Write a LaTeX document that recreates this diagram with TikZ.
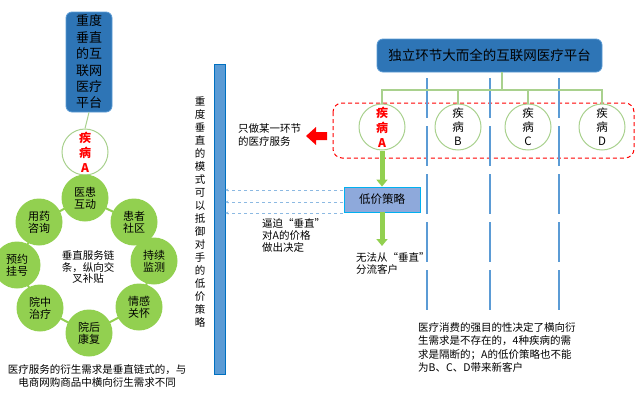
\documentclass[tikz,border=0pt]{standalone}
\usepackage{fontspec}
\setmainfont{Noto Sans CJK SC}
\usetikzlibrary{arrows.meta,backgrounds}
\definecolor{platblue}{HTML}{2E75B6}
\definecolor{platedge}{HTML}{5B9BD5}
\definecolor{leafgreen}{HTML}{92D050}
\definecolor{linegreen}{HTML}{A9D18E}
\definecolor{barblue}{HTML}{5B9BD5}
\definecolor{baredge}{HTML}{0070C0}
\definecolor{pricefill}{HTML}{8EA9DB}
\definecolor{priceedge}{HTML}{00B0F0}
\tikzset{
  platbox/.style={draw=platedge,fill=platblue,rounded corners=6pt,line width=0.8pt,inner sep=0pt},
  disease/.style={circle,draw=linegreen,fill=white,line width=1pt,minimum size=46pt,inner sep=0pt,align=center,font=\fontsize{11.5}{14}\selectfont},
  service/.style={circle,fill=leafgreen,minimum size=47pt,inner sep=0pt,align=center,font=\fontsize{11}{12}\selectfont},
  note/.style={align=left,anchor=west,inner sep=0pt,font=\fontsize{10.5}{12.5}\selectfont},
  fatarrow/.style={leafgreen,line width=5pt,-{Triangle[width=11pt,length=7pt]}},
  pricearrow/.style={barblue!70,dashed,line width=0.5pt,-{Stealth[length=3pt,width=3pt]}},
  sepline/.style={barblue,line width=2.5pt,dash pattern=on 40pt off 8pt}
}
\begin{document}
\begin{tikzpicture}[x=1pt,y=-1pt]
\useasboundingbox (0,0) rectangle (636,407);
% left: vertical platform
\node[platbox,minimum width=46pt,minimum height=100pt,align=center,font=\fontsize{13}{16.4}\selectfont] (vplat) at (89,62) {重度\\垂直\\的互\\联网\\医疗\\平台};
\node[disease,text=red,font=\fontsize{12}{15}\selectfont\bfseries] (adis) at (85,152) {疾\\病\\A};
\draw[linegreen,line width=1pt] (vplat.south) -- (adis.north);
% service ring
\node[service] (s1) at (85,198) {医患\\互动};
\node[service] (s2) at (134,222) {患者\\社区};
\node[service] (s3) at (154,261) {持续\\监测};
\node[service] (s4) at (139,307) {情感\\关怀};
\node[service] (s5) at (89,333) {院后\\康复};
\node[service] (s6) at (40,308) {院中\\治疗};
\node[service] (s7) at (17,265) {预约\\挂号};
\node[service] (s8) at (39,222) {用药\\咨询};
\begin{pgfonlayer}{background}
\foreach \a/\b in {s1/s2,s2/s3,s3/s4,s4/s5,s5/s6,s6/s7,s7/s8,s8/s1}
  \draw[leafgreen,line width=2pt] (\a.center) -- (\b.center);
\end{pgfonlayer}
\node[align=center,inner sep=0pt,font=\fontsize{10.5}{11.5}\selectfont] (chain) at (88,267) {垂直服务链\\条，纵向交\\叉补贴};
\node[align=center,inner sep=0pt,font=\fontsize{10.5}{12.5}\selectfont] (vnote) at (97,376) {医疗服务的衍生需求是垂直链式的，与\\电商网购商品中横向衍生需求不同};
% middle: barrier
\node[align=center,inner sep=0pt,font=\fontsize{10.5}{13}\selectfont] (vtext) at (200,212) {重\\度\\垂\\直\\的\\模\\式\\可\\以\\抵\\御\\对\\手\\的\\低\\价\\策\\略};
\node[draw=baredge,fill=barblue,line width=0.8pt,minimum width=11pt,minimum height=310pt,inner sep=0pt] (bar) at (219.5,219) {};
% right: horizontal platform
\node[platbox,minimum width=225pt,minimum height=33pt,font=\fontsize{13.5}{16}\selectfont] (hplat) at (489.5,55.5) {独立环节大而全的互联网医疗平台};
\draw[red,line width=1pt,dash pattern=on 4pt off 3pt,rounded corners=9pt] (333,103) rectangle (634,158);
\foreach \x in {427,490,559}
  \draw[sepline] (\x,78) -- (\x,316);
\node[disease,text=red,font=\fontsize{12}{15}\selectfont\bfseries] (da) at (382,127) {疾\\病\\A};
\node[disease] (db) at (458,127) {疾\\病\\B};
\node[disease] (dc) at (528,127) {疾\\病\\C};
\node[disease] (dd) at (602,127) {疾\\病\\D};
\coordinate (fork) at (502,90);
\draw[linegreen,line width=1.2pt] (hplat.south -| fork) -- (fork);
\draw[linegreen,line width=1.2pt] (da.north) -- (da.north |- fork) -- (dd.north |- fork) -- (dd.north);
\draw[linegreen,line width=1.2pt] (db.north |- fork) -- (db.north);
\draw[linegreen,line width=1.2pt] (dc.north |- fork) -- (dc.north);
\node[draw=priceedge,fill=pricefill,line width=0.8pt,minimum width=76pt,minimum height=25pt,inner sep=0pt,font=\fontsize{11.5}{14}\selectfont] (price) at (382,199.5) {低价策略};
\draw[fatarrow] (da.south) -- (price.north);
\coordinate (lost) at (382,246);
\draw[fatarrow] (price.south) -- (lost);
\foreach \y in {190,202,213}
  \draw[pricearrow] (343,\y) -- (bar.east |- 0,\y);
% red block arrow
\fill[red] (306,136) -- (316,127) -- (316,132) -- (327,132) -- (327,140) -- (316,140) -- (316,145) -- cycle;
% notes
\node[note] (only) at (238,135) {只做某一环节\\的医疗服务};
\node[note,font=\fontsize{10.5}{12}\selectfont] (force) at (262,235) {逼迫“垂直”\\对A的价格\\做出决定};
\node[note,font=\fontsize{10.5}{12}\selectfont] (cannot) at (356,263) {无法从“垂直”\\分流客户};
\node[note,font=\fontsize{10.5}{13.5}\selectfont] (hnote) at (418,347.5) {医疗消费的强目的性决定了横向衍\\生需求是不存在的，4种疾病的需\\求是隔断的；A的低价策略也不能\\为B、C、D带来新客户};
\end{tikzpicture}
\end{document}
